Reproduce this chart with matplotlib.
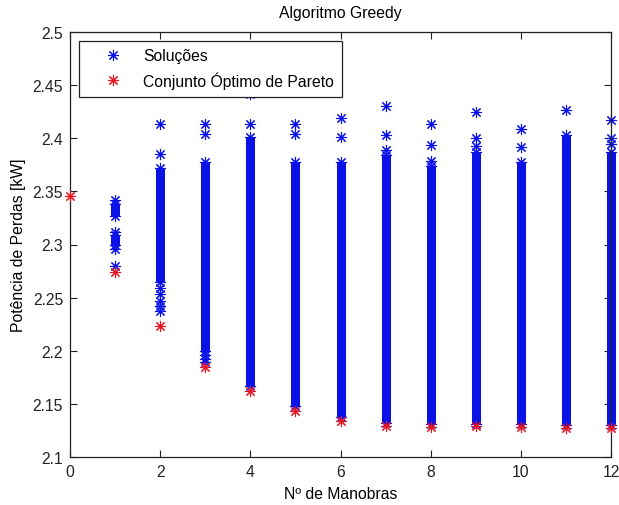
import matplotlib
matplotlib.use('Agg')
import matplotlib.pyplot as plt
from matplotlib.lines import Line2D

plt.rcParams['font.family'] = ['Liberation Sans', 'DejaVu Sans']

# solucoes isoladas (nº de manobras, perdas em kW)
sol_x = [1, 1, 1, 1,
         2, 2, 2, 2, 2, 2, 2,
         3, 3, 3, 3, 3,
         4, 4,
         5, 5,
         6, 6,
         7, 7, 7,
         8, 8, 8,
         9, 9, 9,
         10, 10,
         11,
         12, 12, 12]
sol_y = [2.342, 2.312, 2.296, 2.280,
         2.413, 2.385, 2.259, 2.253, 2.247, 2.242, 2.237,
         2.413, 2.404, 2.196, 2.192, 2.189,
         2.442, 2.413,
         2.413, 2.404,
         2.419, 2.401,
         2.430, 2.403, 2.389,
         2.413, 2.394, 2.379,
         2.425, 2.400, 2.393,
         2.409, 2.392,
         2.427,
         2.417, 2.400, 2.395]

# faixas densas de solucoes (inicio e fim de cada coluna)
band_x = [1, 1, 2, 3, 4, 5, 6, 7, 8, 9, 10, 11, 12]
band_lo = [2.327, 2.300, 2.265, 2.200, 2.167, 2.148, 2.138,
           2.132, 2.131, 2.131, 2.131, 2.130, 2.130]
band_hi = [2.338, 2.309, 2.372, 2.378, 2.401, 2.378, 2.378,
           2.384, 2.374, 2.387, 2.378, 2.403, 2.387]

# conjunto optimo de pareto
pareto_x = [0, 1, 2, 3, 4, 5, 6, 7, 8, 9, 10, 11, 12]
pareto_y = [2.346, 2.274, 2.223, 2.185, 2.162, 2.143, 2.134,
            2.129, 2.128, 2.129, 2.128, 2.127, 2.127]

blue = '#0a12e6'
red = '#e8141e'
star = (8, 2, 0)
fs = 11.3

fig = plt.figure(figsize=(6.19, 5.06), dpi=100)
ax = fig.add_axes([70 / 619, 48 / 506, 541 / 619, 425 / 506])

ax.vlines(band_x, band_lo, band_hi, colors=blue, linewidth=6.5, clip_on=False, zorder=2)
ax.plot(band_x + band_x, band_lo + band_hi, linestyle='none', marker=star,
        markersize=8, markeredgewidth=0.8, color=blue, clip_on=False, zorder=2)
ax.plot(sol_x, sol_y, linestyle='none', marker=star, markersize=8,
        markeredgewidth=0.8, color=blue, clip_on=False, zorder=2)
ax.plot(pareto_x, pareto_y, linestyle='none', marker=star, markersize=8,
        markeredgewidth=0.8, color=red, clip_on=False, zorder=3)

ax.set_xlim(0, 12)
ax.set_ylim(2.1, 2.5)
ax.set_xticks(range(0, 13, 2))
ax.set_yticks([2.1, 2.15, 2.2, 2.25, 2.3, 2.35, 2.4, 2.45, 2.5])
ax.set_yticklabels(['2.1', '2.15', '2.2', '2.25', '2.3', '2.35', '2.4', '2.45', '2.5'])
ax.tick_params(direction='in', top=True, right=True, length=5, width=0.8,
               labelsize=fs, pad=5, colors='#222222')
for s in ax.spines.values():
    s.set_color('#222222')
    s.set_linewidth(0.9)

ax.set_title('Algoritmo Greedy', fontsize=fs, pad=11)
ax.set_xlabel('Nº de Manobras', fontsize=fs, labelpad=5)
ax.set_ylabel('Potência de Perdas [kW]', fontsize=fs, labelpad=5)

handles = [Line2D([], [], linestyle='none', marker=star, markersize=8,
                  markeredgewidth=0.8, color=blue),
           Line2D([], [], linestyle='none', marker=star, markersize=8,
                  markeredgewidth=0.8, color=red)]
leg = ax.legend(handles, ['Soluções', 'Conjunto Óptimo de Pareto'],
                loc='upper left', bbox_to_anchor=(0.0166, 0.98),
                borderaxespad=0, fancybox=False, framealpha=1,
                edgecolor='#222222', fontsize=fs, labelspacing=0.5,
                handlelength=3.3, handletextpad=0.27, borderpad=0.5)
leg.get_frame().set_linewidth(0.9)

fig.savefig('out.png', dpi=100)
